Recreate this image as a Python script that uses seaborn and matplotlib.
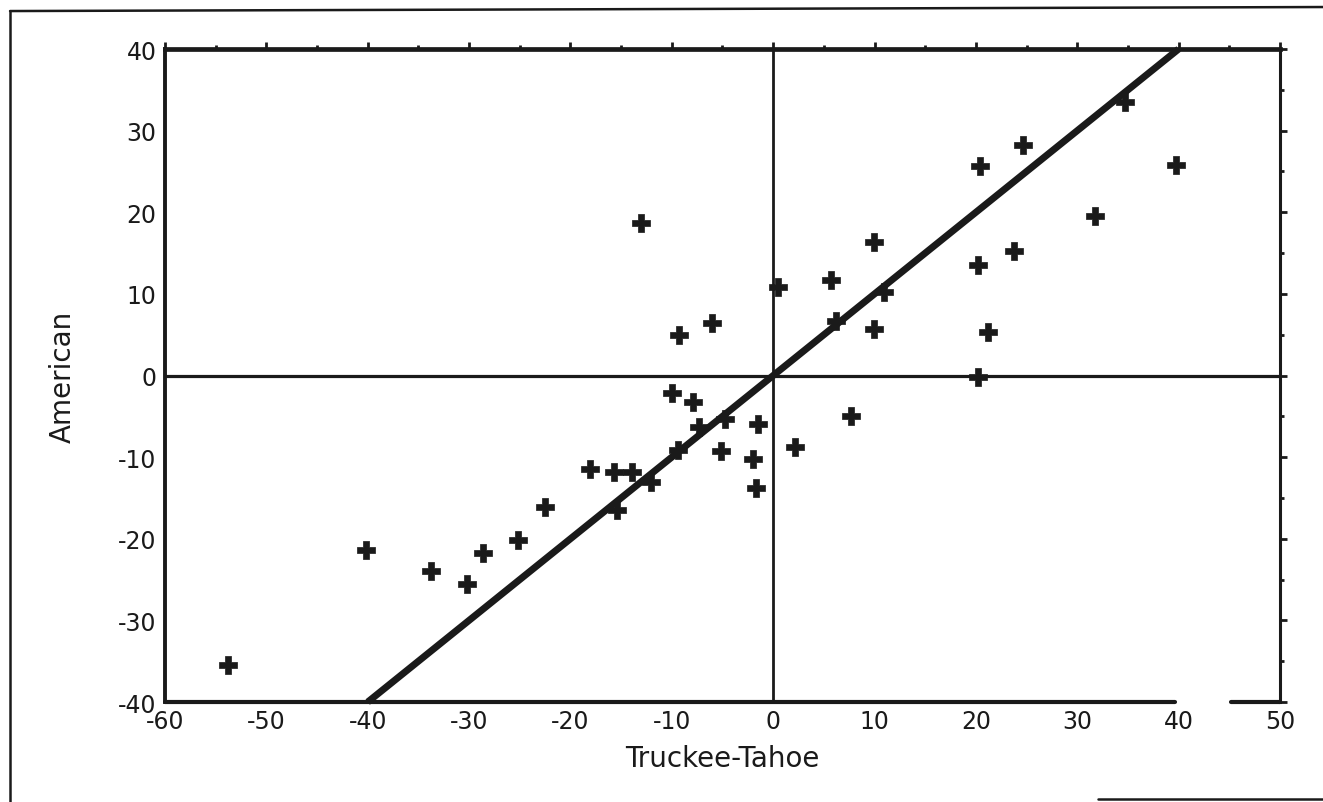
import numpy as np
import pandas as pd
import matplotlib
matplotlib.use("Agg")
import matplotlib.pyplot as plt
from matplotlib.ticker import MultipleLocator
from matplotlib.lines import Line2D
import seaborn as sns

# Truckee-Tahoe vs American
truckee = [-53.8, -40.2, -33.8, -30.2, -28.6, -25.2, -22.5, -18.1, -15.7, -13.9,
           -15.4, -12.1, -13.0, -9.3, -6.0, -10.0, -7.9, -9.4, -7.3, -4.8,
           -5.1, -1.5, -2.0, -1.7, 0.5, 2.2, 5.7, 6.2, 7.7, 9.9,
           9.9, 10.9, 20.2, 20.4, 20.2, 21.2, 23.8, 24.6, 31.7, 34.7, 39.7]
american = [-35.5, -21.4, -24.0, -25.5, -21.7, -20.1, -16.1, -11.4, -11.8, -11.8,
            -16.5, -13.0, 18.7, 5.0, 6.4, -2.2, -3.3, -9.1, -6.3, -5.3,
            -9.2, -5.9, -10.2, -13.8, 10.9, -8.8, 11.7, 6.7, -5.0, 16.3,
            5.7, 10.2, 13.5, 25.7, -0.2, 5.3, 15.3, 28.3, 19.6, 33.5, 25.8]

# reference line (equal change)
line_x = [-40, 40]
line_y = [-40, 40]

x_ticks = [-60, -50, -40, -30, -20, -10, 0, 10, 20, 30, 40, 50]
y_ticks = [-40, -30, -20, -10, 0, 10, 20, 30, 40]

df = pd.DataFrame({"Truckee-Tahoe": truckee, "American": american})

sns.set_style("white")
plt.rcParams["font.family"] = ["DejaVu Sans"]
plt.rcParams["axes.unicode_minus"] = False

fig = plt.figure(figsize=(13.23, 8.03), dpi=100)
ax = fig.add_axes([0.1247, 0.1245, 0.8428, 0.8132])

ink = "#1a1a1a"

# zero lines
ax.axhline(0, color=ink, lw=2.3, zorder=1)
ax.axvline(0, color=ink, lw=2.0, zorder=1)

# diagonal
ax.plot(line_x, line_y, color=ink, lw=5, solid_capstyle="butt", zorder=2, clip_on=False)

sns.scatterplot(data=df, x="Truckee-Tahoe", y="American", marker="P", s=150,
                color=ink, edgecolor=ink, linewidth=0.5, ax=ax, zorder=3, legend=False)

ax.set_xlim(-60, 50)
ax.set_ylim(-40, 40)
ax.set_xticks(x_ticks)
ax.set_yticks(y_ticks)
ax.xaxis.set_minor_locator(MultipleLocator(5))
ax.yaxis.set_minor_locator(MultipleLocator(5))
ax.tick_params(which="major", direction="out", length=5, width=2, colors=ink,
               labelsize=17, pad=1, top=True, right=True)
ax.tick_params(which="minor", direction="out", length=3, width=2, colors=ink,
               top=True, right=True)
ax.tick_params(axis="x", which="major", pad=0)

for side in ["left", "right", "top"]:
    ax.spines[side].set_color(ink)
ax.spines["left"].set_linewidth(2.8)
ax.spines["right"].set_linewidth(2.2)
ax.spines["top"].set_linewidth(3.4)
# bottom axis drawn in two pieces (gap near 40-45 on the original)
ax.spines["bottom"].set_visible(False)
ax.axhline(-40, xmin=0, xmax=(39.6 + 60) / 110, color=ink, lw=3, clip_on=False, zorder=4)
ax.axhline(-40, xmin=(45.2 + 60) / 110, xmax=1, color=ink, lw=3, clip_on=False, zorder=4)

ax.set_xlabel("Truckee-Tahoe", fontsize=20, color=ink, labelpad=8)
ax.set_ylabel("American", fontsize=20, color=ink, labelpad=30)

# page frame from the scan
fig.add_artist(Line2D([0.0076, 1.0], [0.985, 0.99], transform=fig.transFigure, color=ink, lw=1.8))
fig.add_artist(Line2D([0.0076, 0.0076], [0.0, 0.985], transform=fig.transFigure, color=ink, lw=1.8))
fig.add_artist(Line2D([0.83, 1.0], [0.004, 0.004], transform=fig.transFigure, color=ink, lw=1.8))

fig.savefig("out.png", dpi=100)
